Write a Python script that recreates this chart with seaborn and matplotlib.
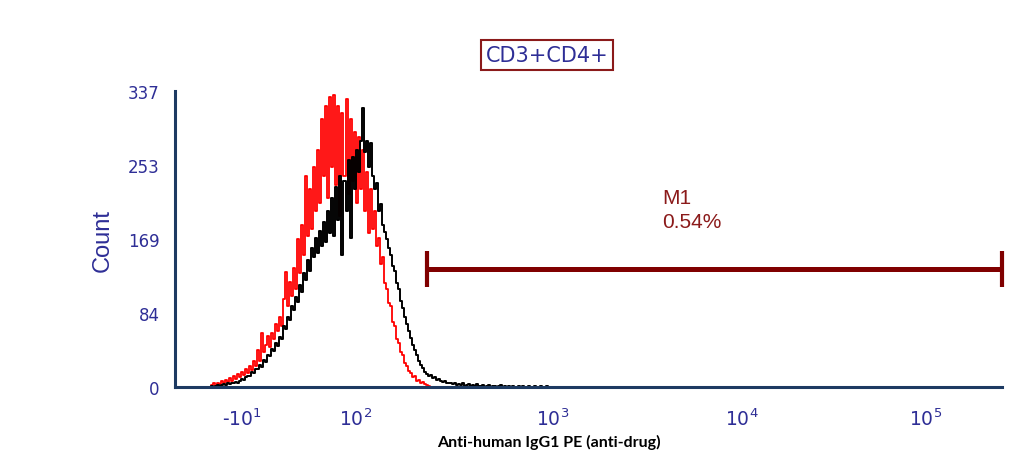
import numpy as np
import matplotlib
matplotlib.use("Agg")
import matplotlib.pyplot as plt
import seaborn as sns
from matplotlib.ticker import FixedLocator, AutoMinorLocator

# histogram counts, one value per display channel (2 display units wide, starting at 210)
RED_COUNTS = [0, 2, 4, 1, 5, 3, 7, 4, 8, 6,
              10, 7, 12, 9, 15, 11, 17, 14, 20, 16,
              24, 19, 30, 24, 42, 30, 62, 40, 48, 58,
              45, 62, 55, 72, 64, 80, 70, 100, 131, 92,
              120, 104, 136, 112, 168, 130, 185, 150, 240, 172,
              225, 180, 250, 200, 270, 210, 305, 240, 320, 215,
              330, 250, 332, 230, 320, 195, 312, 240, 328, 220,
              305, 235, 290, 210, 285, 225, 270, 200, 245, 175,
              225, 180, 200, 160, 170, 140, 148, 118, 112, 96,
              92, 74, 70, 55, 50, 40, 36, 27, 24, 18,
              16, 11, 12, 7, 8, 5, 6, 3, 2, 1,
              0]
BLACK_COUNTS = [0, 1, 0, 1, 2, 1, 2, 3, 2, 4,
                3, 5, 4, 6, 5, 7, 9, 8, 11, 13,
                12, 17, 16, 21, 20, 25, 23, 31, 29, 37,
                35, 43, 41, 50, 47, 57, 55, 70, 66, 80,
                76, 92, 88, 103, 97, 116, 108, 130, 122, 145,
                132, 158, 148, 170, 152, 178, 160, 188, 165, 200,
                175, 215, 172, 228, 190, 240, 150, 235, 200, 258,
                170, 262, 225, 270, 245, 280, 318, 268, 280, 250,
                278, 240, 225, 232, 200, 208, 185, 176, 168, 158,
                150, 138, 132, 118, 112, 98, 90, 80, 72, 64,
                56, 48, 42, 36, 30, 25, 22, 17, 15, 13,
                14, 10, 11, 8, 9, 7, 6, 7, 4, 5,
                4, 3, 5, 2, 3, 2, 4, 1, 2, 3,
                1, 2, 1, 3, 1, 1, 2, 0, 1, 2,
                0, 1, 1, 0, 1, 2, 0, 1, 0, 1,
                0, 1, 0, 0, 1, 0, 1, 0, 0, 1,
                0, 0, 1, 0, 0, 1, 0, 0, 1, 0,
                0]
CH_START = 210
CH_WIDTH = 2

Y_TICKS = [0, 84, 169, 253, 337]
X_MAJOR = [-10, 1e2, 1e3, 1e4, 1e5]
X_LABELS = [r"-$\mathregular{10^{1}}$", r"$\mathregular{10^{2}}$", r"$\mathregular{10^{3}}$",
            r"$\mathregular{10^{4}}$", r"$\mathregular{10^{5}}$"]
X_MINOR = ([-70, -60, -50, -40, -30, -20] + list(range(-9, 10)) +
           [k * m for m in (10, 100, 1000, 10000) for k in range(2, 10)] + [200000])

GATE_LOW, GATE_HIGH, GATE_Y = 240, 262143, 134
GATE_NAME, GATE_PCT = "M1", "0.54%"
TITLE = "CD3+CD4+"

# biexponential-like axis: arcsinh, then piecewise per decade
ASINH_C = 66.0
ANCHOR_X = np.array([0, 1e2, 1e3, 1e4, 1e5])
ANCHOR_POS = np.array([254.0, 355.0, 552.0, 740.0, 923.0])
ANCHOR_U = np.arcsinh(ANCHOR_X / ASINH_C)
SLOPE_LO = (ANCHOR_POS[1] - ANCHOR_POS[0]) / (ANCHOR_U[1] - ANCHOR_U[0])
SLOPE_HI = (ANCHOR_POS[-1] - ANCHOR_POS[-2]) / (ANCHOR_U[-1] - ANCHOR_U[-2])


def _extrap(v, xs, ys, s_lo, s_hi):
    v = np.asarray(v, dtype=float)
    out = np.interp(v, xs, ys)
    out = np.where(v < xs[0], ys[0] + s_lo * (v - xs[0]), out)
    out = np.where(v > xs[-1], ys[-1] + s_hi * (v - xs[-1]), out)
    return out


def forward(x):
    return _extrap(np.arcsinh(np.asarray(x, dtype=float) / ASINH_C),
                   ANCHOR_U, ANCHOR_POS, SLOPE_LO, SLOPE_HI)


def inverse(p):
    u = _extrap(p, ANCHOR_POS, ANCHOR_U, 1 / SLOPE_LO, 1 / SLOPE_HI)
    return ASINH_C * np.sinh(u)


sns.set_style("white")
plt.rcParams["font.family"] = ["DejaVu Sans"]

NAVY = "#1d3a62"
BLUE = "#2e2e96"
MAROON = "#800000"

fig = plt.figure(figsize=(10.18, 4.52), dpi=100)
ax = fig.add_axes([175 / 1018, 1 - 388 / 452, (1002 - 175) / 1018, (388 - 92) / 452])
ax.set_xscale("function", functions=(forward, inverse))

red_x = inverse(CH_START + CH_WIDTH * np.arange(len(RED_COUNTS)))
black_x = inverse(CH_START + CH_WIDTH * np.arange(len(BLACK_COUNTS)))

sns.lineplot(x=red_x, y=RED_COUNTS, color="#ff0000", lw=1.3, drawstyle="steps-mid",
             ax=ax, sort=False)
sns.lineplot(x=black_x, y=BLACK_COUNTS, color="black", lw=1.4, drawstyle="steps-mid",
             ax=ax, sort=False)

ax.set_xlim(inverse(175), GATE_HIGH)
ax.set_ylim(0, 337)

# gate marker
ax.plot([GATE_LOW, GATE_HIGH], [GATE_Y, GATE_Y], color=MAROON, lw=3.6,
        solid_capstyle="butt", clip_on=False)
ax.vlines([GATE_LOW, GATE_HIGH], GATE_Y - 20, GATE_Y + 21, color=MAROON, lw=3,
          clip_on=False)
ax.text(3800, 227, GATE_NAME + "\n" + GATE_PCT, color="#8b1a1a", fontsize=15,
        family="Liberation Sans", va="top", ha="left", linespacing=1.35)

# axes styling
for s in ("top", "right"):
    ax.spines[s].set_visible(False)
for s in ("left", "bottom"):
    ax.spines[s].set_color(NAVY)
    ax.spines[s].set_linewidth(2.2)

ax.set_yticks(Y_TICKS)
ax.yaxis.set_minor_locator(AutoMinorLocator(4))
ax.xaxis.set_major_locator(FixedLocator(X_MAJOR))
ax.xaxis.set_minor_locator(FixedLocator(X_MINOR))
ax.set_xticklabels(X_LABELS)
ax.tick_params(axis="both", which="major", direction="out", color=NAVY, width=1.4,
               length=7, labelcolor=BLUE)
ax.tick_params(axis="both", which="minor", direction="out", color=NAVY, width=1.2,
               length=4)
ax.tick_params(axis="y", labelsize=12, pad=4)
ax.tick_params(axis="x", labelsize=13.5, pad=8)

ax.set_ylabel("Count", color=BLUE, fontsize=17, family="Liberation Sans", labelpad=10)
ax.grid(False)

fig.text(547 / 1018, 1 - 56 / 452, TITLE, color=BLUE, fontsize=15, ha="center",
         va="center",
         bbox=dict(boxstyle="square,pad=0.22", fc="white", ec="#8b1a1a", lw=1.5))
fig.text(549 / 1018, 1 - 447 / 452, "Anti-human IgG1 PE (anti-drug)", color="black",
         fontsize=11.5, family="Lato", weight="bold", ha="center", va="baseline")

fig.savefig("out.png", dpi=100, facecolor="white")
